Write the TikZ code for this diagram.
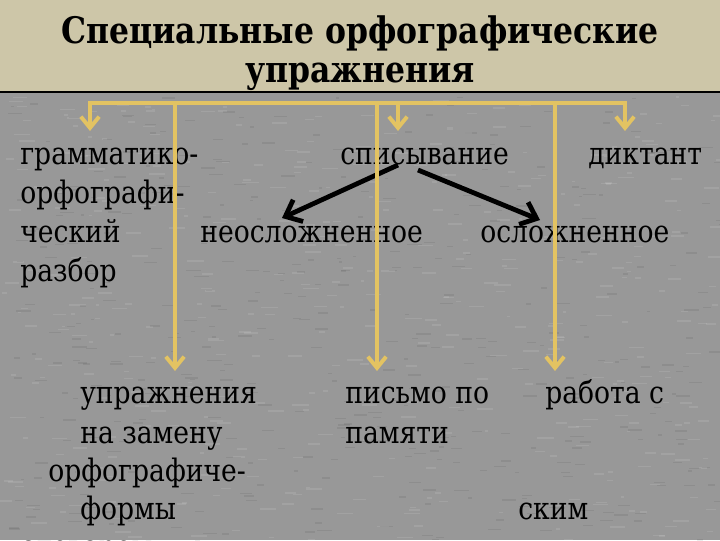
\documentclass[tikz,border=0pt]{standalone}
\usepackage{fontspec}
\setmainfont{DejaVu Serif}
\newfontfamily\slidefont{DejaVu Serif}[FakeStretch=0.86]
\usetikzlibrary{arrows.meta}
\definecolor{titlebg}{RGB}{205,198,168}
\definecolor{slidebg}{RGB}{152,152,152}
\definecolor{goldline}{RGB}{227,195,98}
\tikzset{
  txt/.style={inner sep=0pt, anchor=base west, text=black,
    font=\slidefont\fontsize{22}{26}\selectfont},
  titletxt/.style={inner sep=0pt, anchor=base, text=black,
    font=\slidefont\bfseries\fontsize{26}{26}\selectfont},
  gold/.style={draw=goldline, line width=2.8pt,
    -{Straight Barb[length=8pt,width=13pt]}},
  blackarrow/.style={draw=black, line width=3.4pt,
    -{Straight Barb[length=10pt,width=17pt]}}
}
\begin{document}
\begin{tikzpicture}[x=0.025cm,y=-0.025cm]
        % Sfondo
        \useasboundingbox (0,0) rectangle (720,540);
        \fill[slidebg] (0,0) rectangle (720,540);
        \pgfmathsetseed{11}
        \foreach \i in {1,...,450} {
            \fill[white, opacity=0.10] ({rnd*720},{94+rnd*446}) rectangle ++({3+rnd*14},1.6);
            \fill[black, opacity=0.07] ({rnd*720},{94+rnd*446}) rectangle ++({3+rnd*12},1.4);
        }
        \fill[titlebg] (0,0) rectangle (720,92);
        \draw[black, line width=0.9pt] (0,92) -- (720,92);

        % Titolo
        \node[titletxt] (title1) at (360,43) {Специальные орфографические};
        \node[titletxt] (title2) at (360,82) {упражнения};

        % Testi superiori
        \foreach \y/\riga in {164/грамматико-, 203/орфографи-, 242/ческий, 281/разбор}
            \node[txt] (gram\y) at (20,\y) {\riga};
        \node[txt] (spis) at (340,164) {списывание};
        \node[txt] (dikt) at (588,164) {диктант};
        \node[txt] (neosl) at (200,242) {неосложненное};
        \node[txt] (osl) at (480,242) {осложненное};

        % Testi inferiori
        \foreach \x/\y/\riga in {80/403/упражнения, 80/443/на замену, 48/481/орфографиче-,
                                 80/519/формы, 20/557/словарем}
            \node[txt] (upr\y) at (\x,\y) {\riga};
        \node[txt] (pism1) at (345,403) {письмо по};
        \node[txt] (pism2) at (345,443) {памяти};
        \node[txt] (rab1) at (545,403) {работа с};
        \node[txt] (rab2) at (518,519) {ским};

        % Frecce nere
        \coordinate (spisL) at (398,165);
        \coordinate (spisR) at (418,170);
        \coordinate (neoslT) at (282,218);
        \coordinate (oslT) at (540,220);
        \draw[blackarrow] (spisL) -- (neoslT);
        \draw[blackarrow] (spisR) -- (oslT);

        % Linee dorate
        \coordinate (busL) at (90,103);
        \coordinate (busR) at (625,103);
        \coordinate (gramT) at (90,131);
        \coordinate (diktT) at (625,131);
        \draw[gold, {Straight Barb[length=8pt,width=13pt]}-{Straight Barb[length=8pt,width=13pt]}]
            (gramT) -- (busL) -- (busR) -- (diktT);
        \draw[gold] (398,103) -- (398,131);
        \foreach \x in {175,377,555}
            \draw[gold] (\x,103) -- (\x,371);
\end{tikzpicture}
\end{document}
